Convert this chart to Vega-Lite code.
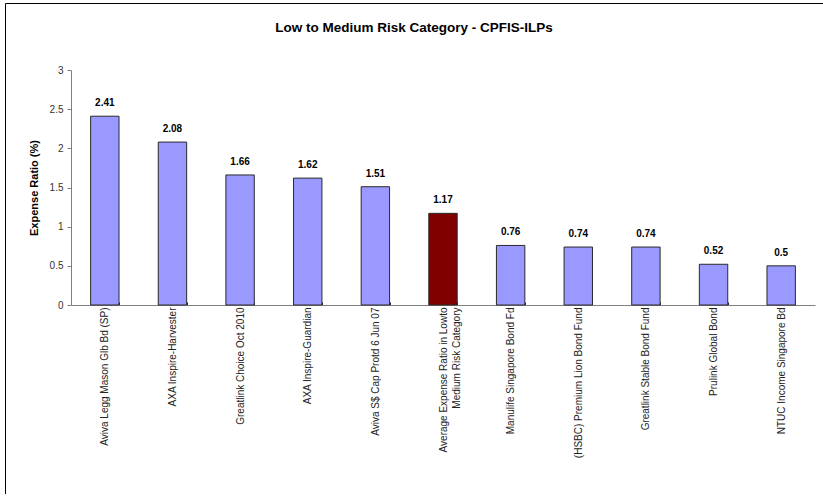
{
  "$schema": "https://vega.github.io/schema/vega-lite/v6.json",
  "autosize": "none",
  "width": 818,
  "height": 491,
  "padding": {"left": 5, "top": 3, "right": 0, "bottom": 0},
  "background": "white",
  "config": {
    "view": {"stroke": "black", "strokeWidth": 1},
    "font": "Liberation Sans"
  },
  "title": {
    "text": "Low to Medium Risk Category - CPFIS-ILPs",
    "fontSize": 13.5,
    "fontWeight": "bold",
    "font": "Liberation Sans",
    "color": "black",
    "anchor": "middle",
    "offset": -31
  },
  "data": {
    "values": [
      {"fund": "Aviva Legg Mason Glb Bd (SP)", "ratio": 2.41, "type": "fund"},
      {"fund": "AXA Inspire-Harvester", "ratio": 2.08, "type": "fund"},
      {"fund": "Greatlink Choice Oct 2010", "ratio": 1.66, "type": "fund"},
      {"fund": "AXA Inspire-Guardian", "ratio": 1.62, "type": "fund"},
      {"fund": "Aviva S$ Cap Protd 6 Jun 07", "ratio": 1.51, "type": "fund"},
      {"fund": "Average Expense Ratio in Lowto|Medium Risk Category", "ratio": 1.17, "type": "average"},
      {"fund": "Manulife Singapore Bond Fd", "ratio": 0.76, "type": "fund"},
      {"fund": "(HSBC) Premium Lion Bond Fund", "ratio": 0.74, "type": "fund"},
      {"fund": "Greatlink Stable Bond Fund", "ratio": 0.74, "type": "fund"},
      {"fund": "Prulink Global Bond", "ratio": 0.52, "type": "fund"},
      {"fund": "NTUC Income Singapore Bd", "ratio": 0.5, "type": "fund"}
    ]
  },
  "encoding": {
    "x": {
      "field": "fund",
      "type": "nominal",
      "sort": null,
      "scale": {"range": [66, 810], "paddingInner": 0.58, "paddingOuter": 0.29},
      "axis": {
        "title": null,
        "offset": -189,
        "labelAngle": -90,
        "labelFontSize": 10,
        "labelColor": "#222222",
        "labelPadding": 5,
        "labelLineHeight": 13,
        "labelExpr": "split(datum.label, '|')",
        "labelLimit": 300,
        "tickBand": "extent",
        "tickSize": -3,
        "tickColor": "#222222",
        "domainColor": "#808080",
        "grid": false
      }
    },
    "y": {
      "field": "ratio",
      "type": "quantitative",
      "scale": {"domain": [0, 3], "range": [302, 67], "nice": false},
      "axis": {
        "title": "Expense Ratio (%)",
        "titleFontSize": 11,
        "titleFontWeight": "bold",
        "titleColor": "black",
        "titlePadding": 10,
        "offset": -66,
        "values": [0, 0.5, 1, 1.5, 2, 2.5, 3],
        "format": "~g",
        "labelFontSize": 10,
        "labelColor": "#333333",
        "labelPadding": 4,
        "tickSize": 4,
        "tickColor": "#808080",
        "domainColor": "#808080",
        "grid": false
      }
    }
  },
  "layer": [
    {
      "mark": {"type": "bar", "stroke": "#2a2a2a", "strokeWidth": 1},
      "encoding": {
        "color": {
          "field": "type",
          "type": "nominal",
          "scale": {"domain": ["fund", "average"], "range": ["#9999FF", "#800000"]},
          "legend": null
        }
      }
    },
    {
      "mark": {"type": "text", "baseline": "bottom", "dy": -8, "fontSize": 10, "fontWeight": "bold", "color": "black"},
      "encoding": {
        "text": {"field": "ratio", "type": "quantitative"}
      }
    }
  ]
}
